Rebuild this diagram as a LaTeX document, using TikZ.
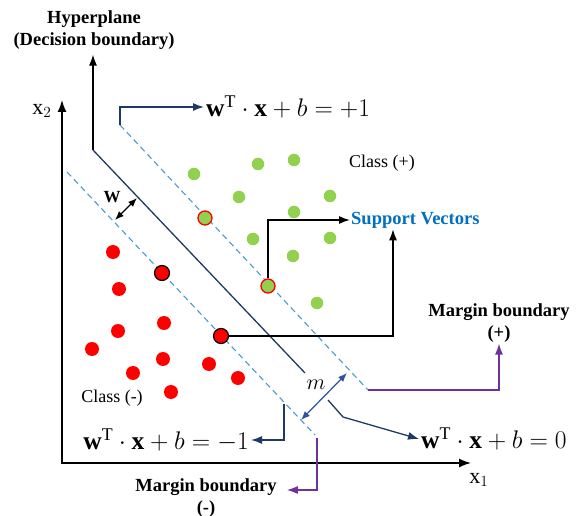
\RequirePackage{fix-cm}
\documentclass[tikz,border=0pt]{standalone}
\usepackage{amsmath}
\usepackage{fontspec}
\setmainfont{Liberation Serif}
\usetikzlibrary{arrows.meta,calc}
\definecolor{Navy}{HTML}{1F3864}
\definecolor{DashBlue}{HTML}{4A9AD0}
\definecolor{Violet}{HTML}{7030A0}
\definecolor{MBlue}{HTML}{2F5597}
\definecolor{SVBlue}{HTML}{0070C0}
\definecolor{Leaf}{HTML}{92D050}
\definecolor{Cherry}{HTML}{FF0000}

\begin{document}
\begin{tikzpicture}[
  x=1pt,y=-1pt,
  axis/.style={-{Latex[length=12pt,width=9pt]},line width=1.5pt,draw=black},
  arr/.style={-{Latex[length=11pt,width=8pt]},line width=1.3pt,draw=black},
  navyarr/.style={-{Latex[length=11pt,width=8pt]},line width=1.3pt,draw=Navy},
  violetarr/.style={-{Latex[length=11pt,width=8pt]},line width=1.3pt,draw=Violet},
  dblarr/.style={{Latex[length=9pt,width=7pt]}-{Latex[length=9pt,width=7pt]},line width=1.2pt},
  hplane/.style={line width=1.3pt,draw=Navy},
  marginline/.style={line width=1.1pt,draw=DashBlue,dash pattern=on 6pt off 4pt},
  lbl/.style={font=\fontsize{18.5}{22}\selectfont\bfseries,align=center,inner sep=1pt},
  classlbl/.style={font=\fontsize{18}{21}\selectfont,inner sep=1pt},
  eq/.style={font=\fontsize{25.5}{30}\selectfont,inner sep=2pt},
  gdot/.style={circle,fill=Leaf,inner sep=0pt,minimum size=12.5pt},
  rdot/.style={circle,fill=Cherry,inner sep=0pt,minimum size=14pt},
  gsv/.style={circle,fill=Leaf,draw=Cherry,line width=1.3pt,inner sep=0pt,minimum size=14pt},
  rsv/.style={circle,fill=Cherry,draw=black,line width=1.2pt,inner sep=0pt,minimum size=15pt}
]
  \useasboundingbox (0,0) rectangle (579,516);

  % axes
  \coordinate (origin) at (62,463);
  \coordinate (xend) at (471,463);
  \coordinate (yend) at (62,100);
  \draw[axis] (origin) -- (xend);
  \draw[axis] ([yshift=-0.75pt]origin) -- (yend);
  \node[eq,font=\fontsize{22}{26}\selectfont] (xone) at (479,480) {$\mathrm{x}_1$};
  \node[eq,font=\fontsize{22}{26}\selectfont] (xtwo) at (42,111) {$\mathrm{x}_2$};

  % hyperplane and margins
  \coordinate (hpA) at (93,150);
  \coordinate (hpB) at (305,373);
  \coordinate (hpC) at (328,400);
  \coordinate (hpD) at (343,417);
  \coordinate (upA) at (120,125);
  \coordinate (upB) at (368,390);
  \coordinate (loA) at (67,172);
  \coordinate (loB) at (315,435);
  \coordinate (loC) at (284,404);
  \coordinate (loD) at (317,438);
  \draw[hplane] (hpA) -- (hpB);
  \draw[marginline] (upA) -- (upB);
  \draw[marginline] (loA) -- (loB);

  \node[lbl] (hyp) at (94,30) {Hyperplane\\(Decision boundary)};
  \draw[arr] (hpA) -- ([yshift=-4pt]hpA |- hyp.south);

  % data points
  \foreach \px/\py [count=\i] in {194/174,258/164,294/160,239/197,330/196,294/212,
                                  253/239,330/238,293/256,317/303}
    \node[gdot] (g\i) at (\px,\py) {};
  \foreach \px/\py [count=\i] in {113/252,119/289,118/331,164/323,92/349,163/359,
                                  209/364,133/373,238/378,171/392}
    \node[rdot] (r\i) at (\px,\py) {};
  \node[gsv] (gsA) at (205,218) {};
  \node[gsv] (gsB) at (268,286) {};
  \node[rsv] (rsA) at (162,273) {};
  \node[rsv] (rsB) at (221,336) {};

  % labels
  \node[classlbl] (cplus) at (382,163) {Class (+)};
  \node[classlbl] (cminus) at (112,398) {Class (-)};
  \node[lbl,text=SVBlue,anchor=west] (sv) at (350,220) {Support Vectors};
  \draw[arr] (gsB) |- (sv.west);
  \draw[arr] (rsB) -| ([xshift=43pt]sv.south west);

  \node[eq,anchor=west] (eqplus) at (204,107) {$\mathbf{w}^{\mathrm{T}}\cdot\mathbf{x}+b=+1$};
  \node[eq,anchor=east] (eqminus) at (251,440) {$\mathbf{w}^{\mathrm{T}}\cdot\mathbf{x}+b=-1$};
  \node[eq,anchor=west] (eqzero) at (419,439) {$\mathbf{w}^{\mathrm{T}}\cdot\mathbf{x}+b=0$};
  \draw[navyarr] (upA) |- (eqplus.west);
  \draw[navyarr] (loC) |- (eqminus.east);
  \draw[navyarr] (hpC) -- (hpD) -- (eqzero.west);

  \node[lbl] (mbplus) at (499,323) {Margin boundary\\(+)};
  \node[lbl] (mbminus) at (206,498) {Margin boundary\\(-)};
  \draw[violetarr] (upB) -| (mbplus.south);
  \draw[violetarr] (loD) |- ([xshift=9pt,yshift=8pt]mbminus.east);

  % widths
  \coordinate (wA) at (115,220);
  \coordinate (wB) at (137,198);
  \draw[dblarr] (wA) -- (wB);
  \node[lbl,font=\fontsize{17}{19}\selectfont\bfseries] (wlab) at (112,197) {W};
  \coordinate (mA) at (301,420);
  \coordinate (mB) at (347,373);
  \draw[dblarr,draw=MBlue,fill=MBlue] (mA) -- (mB);
  \node[eq,font=\fontsize{22}{26}\selectfont] (mlab) at (316,385) {$m$};
\end{tikzpicture}
\end{document}
